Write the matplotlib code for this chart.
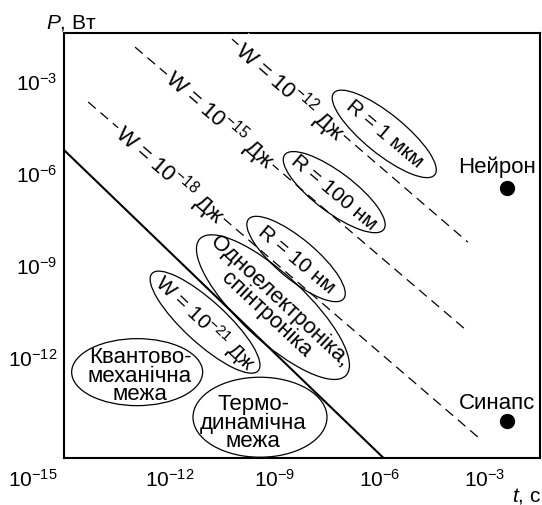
import matplotlib
matplotlib.use('Agg')
import matplotlib.pyplot as plt
from matplotlib.patches import Ellipse
from matplotlib import transforms

plt.rcParams['font.family'] = ['Liberation Sans', 'DejaVu Sans']
plt.rcParams['mathtext.fontset'] = 'custom'
plt.rcParams['mathtext.rm'] = 'Liberation Sans'
plt.rcParams['mathtext.it'] = 'Liberation Sans:italic'
plt.rcParams['mathtext.bf'] = 'Liberation Sans:bold'

# log10 of t (s) and P (W) at the ends of each line
boundary_t = [-15.0, -5.9]
boundary_p = [-5.28, -15.29]

w12_t = [-10.23, -3.49]
w12_p = [-1.63, -8.25]
w15_t = [-13.0, -3.57]
w15_p = [-1.89, -11.09]
w18_t = [-14.34, -3.2]
w18_p = [-3.68, -14.61]

# neuron / synapse points
point_names = ['Нейрон', 'Синапс']
point_t = [-2.37, -2.37]
point_p = [-6.49, -14.09]

xticks_exp = [-12, -9, -6, -3]
yticks_exp = [-3, -6, -9, -12]

DPI = 100
FS = 16
fig = plt.figure(figsize=(5.42, 5.06), dpi=DPI)
ax = fig.add_axes([64 / 542, 1 - 459 / 506, 476 / 542, 425 / 506])
ax.set_xscale('log')
ax.set_yscale('log')
ax.set_xlim(10 ** -15.03, 10 ** -1.43)
ax.set_ylim(10 ** -15.29, 10 ** -1.43)
ax.set_autoscale_on(False)

for s in ax.spines.values():
    s.set_linewidth(1.5)
ax.set_xticks([10.0 ** e for e in xticks_exp])
ax.set_xticklabels(['$10^{%d}$' % e for e in xticks_exp])
ax.set_yticks([10.0 ** e for e in yticks_exp])
ax.set_yticklabels(['$10^{%d}$' % e for e in yticks_exp])
ax.minorticks_off()
ax.tick_params(length=0, labelsize=15, pad=5)
ax.tick_params(axis='x', pad=7)
# shared corner label
ax.text(-0.065, -0.05, '$10^{-15}$', transform=ax.transAxes, fontsize=15,
        ha='center', va='center')

fig.text(46 / 542, 1 - 23 / 506, '$P$, Вт', fontsize=15, ha='left', va='center')
fig.text(541 / 542, 1 - 496 / 506, '$t$, с', fontsize=15, ha='right', va='center')

# lines
ax.plot([10 ** v for v in boundary_t], [10 ** v for v in boundary_p],
        color='black', lw=1.5, zorder=2)
for tt, pp in [(w12_t, w12_p), (w15_t, w15_p), (w18_t, w18_p)]:
    ax.plot([10 ** v for v in tt], [10 ** v for v in pp], color='black',
            lw=0.9, dashes=(8, 5), zorder=1)

# labels on dashed lines (white box breaks the line)
line_labels = [
    (-8.57, -3.33, 'W = 10$^{-12}$ Дж'),
    (-10.57, -4.24, 'W = 10$^{-15}$ Дж'),
    (-12.0, -6.03, 'W = 10$^{-18}$ Дж'),
]
for lt, lp, txt in line_labels:
    ax.text(10 ** lt, 10 ** lp, txt, fontsize=FS, rotation=-41,
            rotation_mode='anchor', ha='center', va='center', zorder=3,
            bbox=dict(fc='white', ec='none', pad=1.0))


def oval(t, p, w, h, angle):
    tr = fig.dpi_scale_trans + transforms.ScaledTranslation(10 ** t, 10 ** p, ax.transData)
    e = Ellipse((0, 0), w / DPI, h / DPI, angle=angle, transform=tr,
                fill=False, ec='black', lw=0.9, zorder=4)
    ax.add_patch(e)


def label(t, p, txt, rot=0, ls=1.0, fs=FS):
    ax.text(10 ** t, 10 ** p, txt, fontsize=fs, rotation=rot,
            rotation_mode='anchor', ha='center', va='center', linespacing=ls)


oval(-5.88, -4.72, 130, 40, -39)
label(-5.88, -4.68, 'R = 1 мкм', -40, fs=15)
oval(-7.31, -6.62, 124, 40, -37)
label(-7.31, -6.62, 'R = 100 нм', -40, fs=15)
oval(-8.40, -8.80, 124, 40, -40)
label(-8.40, -8.80, 'R = 10 нм', -40, fs=15)
oval(-9.06, -10.37, 200, 66, -43)
label(-9.06, -10.37, 'Одноелектроніка,\nспінтроніка', -43, 0.85)
oval(-11.0, -10.86, 144, 42, -42.5)
label(-11.0, -10.86, 'W = 10$^{-21}$ Дж', -43, fs=15)
oval(-12.94, -12.49, 131, 67, 0)
label(-12.86, -12.59, 'Квантово-\nмеханічна\nмежа', 0, 0.85)
oval(-9.43, -13.96, 134, 80, 0)
label(-9.63, -14.12, 'Термо-\nдинамічна\nмежа', 0, 0.85)

# points
ax.plot([10 ** v for v in point_t], [10 ** v for v in point_p], 'o',
        color='black', ms=10, zorder=5)
label_dy = [0.72, 0.62]
for name, tt, pp, dy in zip(point_names, point_t, point_p, label_dy):
    ax.text(10 ** (tt - 0.3), 10 ** (pp + dy), name, fontsize=FS,
            ha='center', va='center')

fig.savefig('out.png', dpi=DPI)
